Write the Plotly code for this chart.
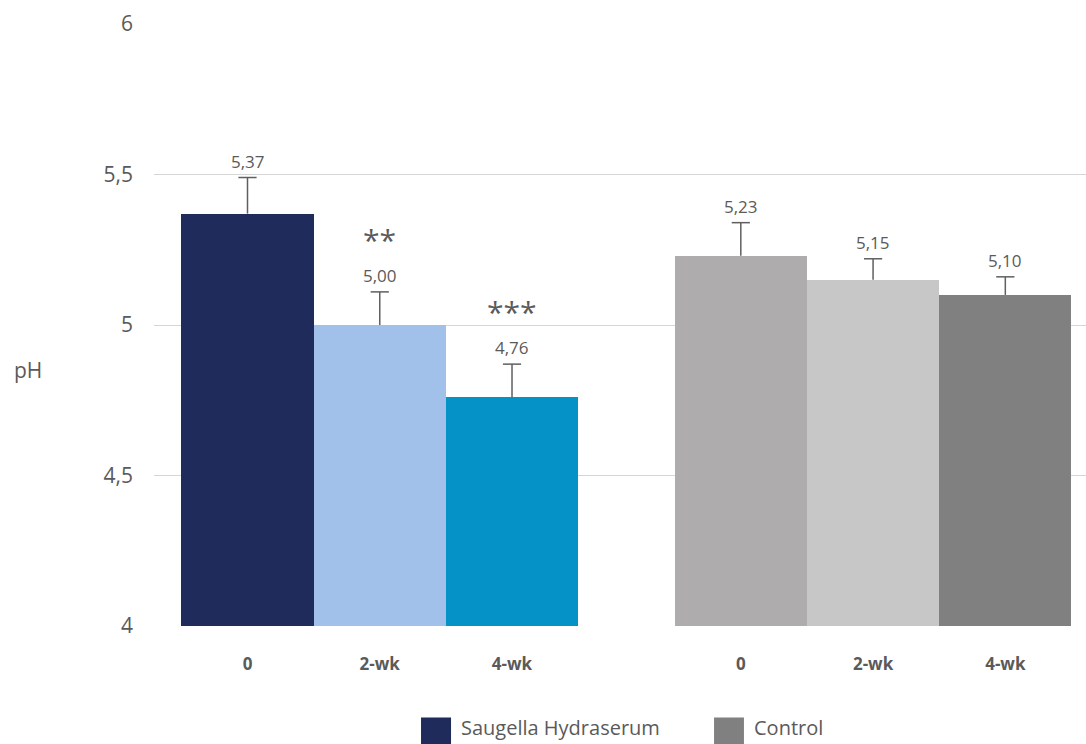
import plotly.graph_objects as go

# pH over time for the two groups
timepoints = ["0", "2-wk", "4-wk"]
saugella_ph = [5.37, 5.00, 4.76]
saugella_err = [0.12, 0.11, 0.11]
control_ph = [5.23, 5.15, 5.10]
control_err = [0.11, 0.07, 0.06]
saugella_stars = ["", "**", "***"]
legend_names = ["Saugella Hydraserum", "Control"]

saugella_x = [0, 1, 2]
control_x = [3.73, 4.73, 5.73]

saugella_colors = ["#1f2b5a", "#a2c1ea", "#0592c7"]
control_colors = ["#aeacad", "#c8c7c7", "#808080"]
legend_colors = ["#1f2b5a", "#808080"]

text_grey = "#5a5a5a"
whisker_grey = "#5f5f5f"
font_family = "'Open Sans', sans-serif"

fig = go.Figure()

for xs, vals, cols in ((saugella_x, saugella_ph, saugella_colors),
                       (control_x, control_ph, control_colors)):
    fig.add_trace(go.Bar(
        x=xs, y=vals, width=1.0,
        marker=dict(color=cols, line=dict(width=0)),
        showlegend=False, hoverinfo="skip",
    ))

# upper-only error whiskers with a cap at the top
for xs, vals, errs in ((saugella_x, saugella_ph, saugella_err),
                       (control_x, control_ph, control_err)):
    lx, ly = [], []
    for x, v, e in zip(xs, vals, errs):
        lx += [x, x, None]
        ly += [v, v + e, None]
    fig.add_trace(go.Scatter(
        x=lx, y=ly, mode="lines",
        line=dict(color=whisker_grey, width=1.5),
        showlegend=False, hoverinfo="skip", cliponaxis=False,
    ))
    fig.add_trace(go.Scatter(
        x=xs, y=[v + e for v, e in zip(vals, errs)], mode="markers",
        marker=dict(symbol="line-ew", size=13,
                    line=dict(color=whisker_grey, width=1.5)),
        showlegend=False, hoverinfo="skip", cliponaxis=False,
    ))

annotations = []
for xs, vals, errs in ((saugella_x, saugella_ph, saugella_err),
                       (control_x, control_ph, control_err)):
    for x, v, e in zip(xs, vals, errs):
        annotations.append(dict(
            x=x, y=v + e, text=f"{v:.2f}".replace(".", ","),
            showarrow=False, yanchor="bottom", yshift=3,
            font=dict(size=17, color=text_grey, family=font_family)))

for x, v, e, s in zip(saugella_x, saugella_ph, saugella_err, saugella_stars):
    if s:
        annotations.append(dict(
            x=x, y=v + e, text=s, showarrow=False, yanchor="bottom", yshift=30,
            font=dict(size=30, color=text_grey, family=font_family)))

annotations.append(dict(
    xref="paper", yref="paper", x=-0.152, y=0.425, text="pH", showarrow=False,
    xanchor="left", yanchor="middle",
    font=dict(size=21, color=text_grey, family=font_family)))

# legend: colour swatch followed by label, centred below the axis
shapes = []
legend_pos = [(0.2865, 0.3187), (0.6009, 0.6330)]
for (x0, x1), name, col in zip(legend_pos, legend_names, legend_colors):
    shapes.append(dict(type="rect", xref="paper", yref="paper",
                       x0=x0, x1=x1, y0=-0.205, y1=-0.152,
                       fillcolor=col, line=dict(width=0)))
    annotations.append(dict(
        xref="paper", yref="paper", x=x1 + 0.009, y=-0.169, text=name,
        showarrow=False, xanchor="left", yanchor="middle",
        font=dict(size=20, color=text_grey, family=font_family)))

fig.update_layout(
    width=1086, height=744,
    margin=dict(l=154, r=0, t=24, b=118, autoexpand=False),
    paper_bgcolor="white", plot_bgcolor="white",
    bargap=0, showlegend=False,
    font=dict(family=font_family, color=text_grey),
    xaxis=dict(
        range=[-0.707, 6.34],
        tickvals=saugella_x + control_x,
        ticktext=timepoints + timepoints,
        tickfont=dict(size=17, color=text_grey, family=font_family, weight="bold"),
        showgrid=False, zeroline=False, showline=False, ticks="",
        ticklabelstandoff=26,
    ),
    yaxis=dict(
        range=[4, 6],
        tickvals=[4, 4.5, 5, 5.5, 6],
        ticktext=["4", "4,5", "5", "5,5", "6"],
        tickfont=dict(size=21, color=text_grey, family=font_family),
        showgrid=True, gridcolor="#d6d6d6", gridwidth=1,
        zeroline=False, showline=False, ticks="",
        ticklabelstandoff=20,
    ),
    shapes=shapes,
    annotations=annotations,
)

fig.write_html("out.html")
